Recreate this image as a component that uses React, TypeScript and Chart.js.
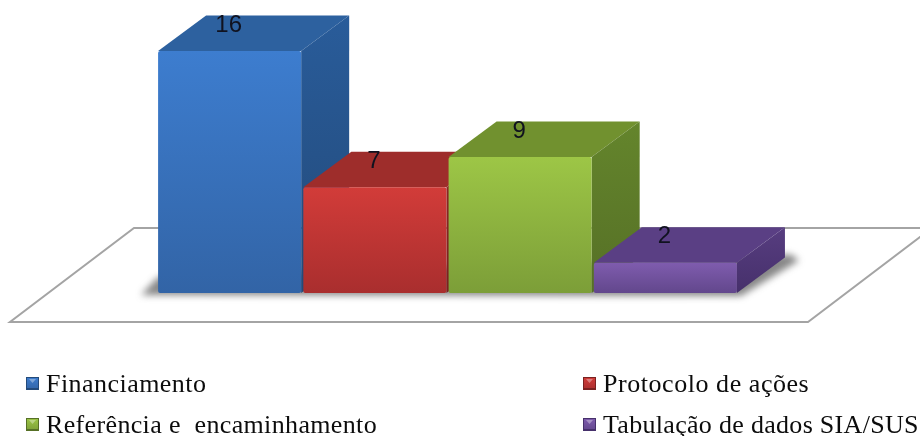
import { useEffect, useRef } from "react";
import { Chart, registerables } from "chart.js";

Chart.register(...registerables);

const categories = [
  "Financiamento",
  "Protocolo de ações",
  "Referência e  encaminhamento",
  "Tabulação de dados SIA/SUS",
];
const counts = [16, 7, 9, 2];
const frontTop = ["#3d7dcf", "#d23c39", "#9dc646", "#7f5cae"];
const frontBottom = ["#3264a6", "#a92e2e", "#7c9e38", "#62478c"];
const topFace = ["#2d619f", "#9e2d2b", "#71912f", "#5a3f84"];
const sideTop = ["#295c9a", "#8f2826", "#64852c", "#573d80"];
const sideBottom = ["#234a7a", "#7a2120", "#567026", "#46306b"];
const legendSpacing = [0.45, 0.55, 0.35, 0.3];

const DEPTH_X = 48;
const DEPTH_Y = 35.5;
const FLOOR = { left: 10, right: 808, front: 322, back: 228, run: 124 };

function fillPoly(ctx: CanvasRenderingContext2D, pts: number[][]) {
  ctx.beginPath();
  pts.forEach(([x, y], i) => (i ? ctx.lineTo(x, y) : ctx.moveTo(x, y)));
  ctx.closePath();
  ctx.fill();
}

// Floor plane, the blurred cast shadow and the top and side of each box.
const extrusion = {
  id: "extrusion",
  beforeDatasetsDraw(chart: any) {
    const { ctx } = chart;
    const bars = chart.getDatasetMeta(0).data;
    const baseY = bars[0].base;

    ctx.save();
    ctx.strokeStyle = "#a4a4a4";
    ctx.lineWidth = 2;
    ctx.beginPath();
    ctx.moveTo(FLOOR.left, FLOOR.front);
    ctx.lineTo(FLOOR.right, FLOOR.front);
    ctx.lineTo(FLOOR.right + FLOOR.run, FLOOR.back);
    ctx.lineTo(FLOOR.left + FLOOR.run, FLOOR.back);
    ctx.closePath();
    ctx.stroke();

    const first = bars[0];
    const last = bars[bars.length - 1];
    const left = first.x - first.width / 2;
    const right = last.x + last.width / 2;
    ctx.filter = "blur(3.5px)";
    ctx.fillStyle = "rgba(70,70,70,0.65)";
    fillPoly(ctx, [
      [left - 17, baseY + 2],
      [right + 4, baseY + 3],
      [right + DEPTH_X + 14, baseY - DEPTH_Y + 3],
      [right + DEPTH_X + 6, baseY - DEPTH_Y - 3],
      [left, baseY - 16],
    ]);
    ctx.filter = "none";

    bars.forEach((bar: any, i: number) => {
      const l = bar.x - bar.width / 2;
      const r = bar.x + bar.width / 2;
      const t = bar.y;
      ctx.fillStyle = topFace[i];
      fillPoly(ctx, [
        [l, t],
        [r, t],
        [r + DEPTH_X, t - DEPTH_Y],
        [l + DEPTH_X, t - DEPTH_Y],
      ]);
      const side = ctx.createLinearGradient(0, t - DEPTH_Y, 0, baseY);
      side.addColorStop(0, sideTop[i]);
      side.addColorStop(1, sideBottom[i]);
      ctx.fillStyle = side;
      fillPoly(ctx, [
        [r, t],
        [r + DEPTH_X, t - DEPTH_Y],
        [r + DEPTH_X, baseY - DEPTH_Y],
        [r, baseY],
      ]);
    });
    ctx.restore();
  },
  afterDatasetsDraw(chart: any) {
    const { ctx } = chart;
    const bars = chart.getDatasetMeta(0).data;
    ctx.save();
    ctx.fillStyle = "#10121f";
    ctx.font = '24px "Liberation Sans"';
    ctx.textAlign = "center";
    ctx.textBaseline = "middle";
    bars.forEach((bar: any, i: number) => {
      ctx.fillText(String(counts[i]), bar.x - 1, bar.y - 26);
    });
    ctx.restore();
  },
};

// Two-column legend under the floor plane, built from the category names.
const bottomLegend = {
  id: "bottomLegend",
  afterDraw(chart: any) {
    const { ctx } = chart;
    const columns = [26, 583];
    const rows = [392, 433];
    ctx.save();
    ctx.font = '26px "Liberation Serif"';
    ctx.textBaseline = "alphabetic";
    ctx.textAlign = "left";
    categories.forEach((name, i) => {
      const x = columns[i % 2];
      const y = rows[Math.floor(i / 2)];
      const sy = y - 15;
      const grad = ctx.createLinearGradient(0, sy, 0, sy + 13);
      grad.addColorStop(0, frontTop[i]);
      grad.addColorStop(1, frontBottom[i]);
      ctx.fillStyle = sideBottom[i];
      ctx.fillRect(x, sy, 13, 13);
      ctx.fillStyle = grad;
      ctx.fillRect(x + 1, sy + 1, 11, 10);
      ctx.fillStyle = "rgba(255,255,255,0.35)";
      fillPoly(ctx, [
        [x + 3, sy + 2],
        [x + 10, sy + 2],
        [x + 6.5, sy + 6],
      ]);
      ctx.fillStyle = "#0c0c0c";
      (ctx as any).letterSpacing = `${legendSpacing[i]}px`;
      ctx.fillText(name, x + 20, y);
    });
    ctx.restore();
  },
};

export default function App() {
  const canvasRef = useRef<HTMLCanvasElement>(null);

  useEffect(() => {
    const chart = new Chart(canvasRef.current!, {
      type: "bar",
      data: {
        labels: categories,
        datasets: [
          {
            data: counts,
            backgroundColor: (c: any) => {
              const { chart: ch, dataIndex } = c;
              if (!ch.chartArea || dataIndex === undefined) return frontTop[dataIndex ?? 0];
              const y = ch.scales.y;
              const g = ch.ctx.createLinearGradient(
                0,
                y.getPixelForValue(counts[dataIndex]),
                0,
                y.getPixelForValue(0)
              );
              g.addColorStop(0, frontTop[dataIndex]);
              g.addColorStop(1, frontBottom[dataIndex]);
              return g;
            },
            borderRadius: 2,
            borderSkipped: false,
            categoryPercentage: 1,
            barPercentage: 0.985,
          },
        ],
      },
      options: {
        animation: false,
        responsive: false,
        layout: { padding: { left: 157, right: 182, top: 51, bottom: 143 } },
        plugins: { legend: { display: false }, tooltip: { enabled: false } },
        scales: {
          x: { display: false },
          y: { display: false, min: 0, max: 16 },
        },
      },
      plugins: [extrusion, bottomLegend],
    } as any);
    return () => chart.destroy();
  }, []);

  return (
    <div style={{ position: "absolute", left: 0, top: 0, width: 920, height: 436, overflow: "hidden", background: "#fff" }}>
      <canvas ref={canvasRef} width={920} height={436} style={{ display: "block" }} />
    </div>
  );
}
